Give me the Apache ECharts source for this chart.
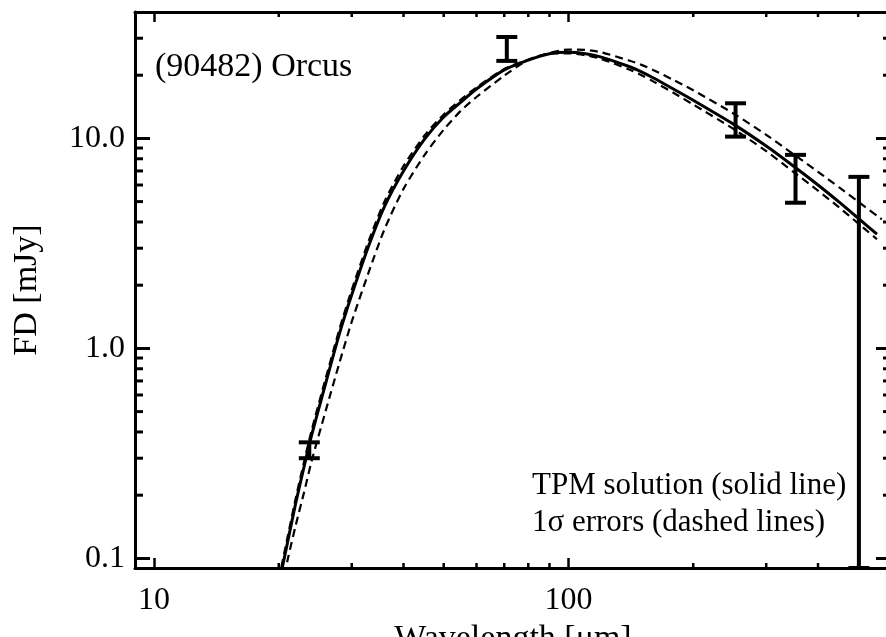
<!DOCTYPE html>
<html>
<head>
<meta charset="utf-8">
<script src="https://cdn.jsdelivr.net/npm/echarts@6/dist/echarts.min.js"></script>
<style>
  html, body { margin: 0; padding: 0; background: #fff; }
  #chart { width: 886px; height: 637px; }
</style>
</head>
<body>
<div id="chart"></div>
<script>
// wavelength grid (micron) for the model curves
const wavelengths = [20, 21, 22, 23, 24, 26, 28, 30, 33, 36, 40, 45, 50, 55, 60, 70, 80, 90, 100, 110, 120, 140, 150, 160, 180, 200, 250, 300, 350, 400, 450, 500, 555];

// TPM solution (solid line), mJy
const tpmFlux = [0.075, 0.119, 0.185, 0.271, 0.385, 0.69, 1.17, 1.80, 3.1, 4.75, 7.0, 9.95, 12.65, 14.9, 17.2, 21.2, 23.6, 25.3, 25.7, 25.3, 24.4, 22.0, 20.75, 19.45, 17.1, 15.2, 11.7, 9.2, 7.35, 6.0, 4.97, 4.17, 3.5];

// 1 sigma error curves (dashed lines)
const lowerFlux = [0.079, 0.126, 0.195, 0.286, 0.406, 0.728, 1.23, 1.90, 3.27, 5.01, 7.39, 10.35, 13.0, 15.3, 17.5, 21.4, 23.7, 25.3, 25.4, 24.9, 23.9, 21.3, 20.0, 18.7, 16.4, 14.5, 11.1, 8.7, 6.9, 5.64, 4.69, 3.94, 3.31];
const upperWave = [20, 21, 22, 23, 24, 26, 28, 30, 33, 36, 40, 45, 50, 55, 60, 70, 80, 90, 100, 110, 120, 140, 150, 160, 180, 200, 250, 300, 350, 400, 450, 500, 570];
const upperFlux = [0.063, 0.098, 0.145, 0.205, 0.29, 0.51, 0.85, 1.34, 2.32, 3.70, 5.75, 8.36, 11.0, 13.55, 15.75, 19.9, 23.7, 25.5, 26.5, 26.4, 25.7, 23.5, 22.4, 21.2, 18.9, 16.95, 13.15, 10.4, 8.38, 6.93, 5.84, 5.0, 4.12];

// observations: wavelength, lower and upper flux of the error bar
const obsWave = [23.7, 71, 253, 353, 502];
const obsLow = [0.30, 23.4, 10.2, 4.94, 0.09];
const obsHigh = [0.357, 30.4, 14.7, 8.35, 6.56];

// axis ranges and tick values
const xMin = 9, xMax = 600;
const yMin = 0.09, yMax = 40;
const xMinorTicks = [20, 30, 40, 50, 60, 70, 80, 90, 200, 300, 400, 500];
const yMinorTicks = [0.2, 0.3, 0.4, 0.5, 0.6, 0.7, 0.8, 0.9, 2, 3, 4, 5, 6, 7, 8, 9, 20, 30];

const FONT = 'Liberation Serif, Times New Roman, serif';

function isDecade(v) {
  const l = Math.log10(v);
  return Math.abs(l - Math.round(l)) < 1e-6;
}

function zip(xs, ys) {
  return xs.map((x, i) => [x, ys[i]]);
}

const chart = echarts.init(document.getElementById('chart'));

const axisLine = { show: true, lineStyle: { color: '#000', width: 3 } };

chart.setOption({
  animation: false,
  backgroundColor: '#fff',
  textStyle: { fontFamily: FONT, color: '#000' },
  grid: { left: 135, top: 12, right: -5, bottom: 69, outerBoundsMode: 'none' },
  xAxis: [
    {
      type: 'log', position: 'bottom', min: xMin, max: xMax,
      name: 'Wavelength [\u03bcm]', nameLocation: 'middle', nameGap: 50,
      nameTextStyle: { fontSize: 34, color: '#000', fontFamily: FONT },
      axisLine: axisLine,
      axisTick: { inside: true, length: 10, lineStyle: { color: '#000', width: 2.5 } },
      axisLabel: {
        fontSize: 32, color: '#000', margin: 17, fontFamily: FONT,
        showMinLabel: false, showMaxLabel: false,
        formatter: v => isDecade(v) ? String(Math.round(v)) : ''
      },
      splitLine: { show: false }, minorTick: { show: false }
    },
    {
      type: 'log', position: 'top', min: xMin, max: xMax,
      axisLine: axisLine,
      axisTick: { inside: true, length: 10, lineStyle: { color: '#000', width: 2.5 } },
      axisLabel: { show: false },
      splitLine: { show: false }
    }
  ],
  yAxis: [
    {
      type: 'log', position: 'left', min: yMin, max: yMax,
      name: 'FD [mJy]', nameLocation: 'middle', nameGap: 91, nameRotate: 90,
      nameTextStyle: { fontSize: 34, color: '#000', fontFamily: FONT },
      axisLine: axisLine,
      axisTick: { inside: true, length: 15, lineStyle: { color: '#000', width: 3 } },
      axisLabel: {
        fontSize: 32, color: '#000', margin: 10, fontFamily: FONT,
        showMinLabel: false, showMaxLabel: false,
        formatter: v => isDecade(v) ? Number(v).toFixed(1) : ''
      },
      splitLine: { show: false }
    },
    {
      type: 'log', position: 'right', min: yMin, max: yMax,
      axisLine: axisLine,
      axisTick: { inside: true, length: 15, lineStyle: { color: '#000', width: 3 } },
      axisLabel: { show: false },
      splitLine: { show: false }
    }
  ],
  graphic: [
    { type: 'text', x: 155, y: 67, style: { text: '(90482) Orcus', font: '34px ' + FONT, fill: '#000', verticalAlign: 'middle' } },
    { type: 'text', x: 532, y: 486, style: { text: 'TPM solution (solid line)', font: '31px ' + FONT, fill: '#000', verticalAlign: 'middle' } },
    { type: 'text', x: 532, y: 523, style: { text: '1\u03c3 errors (dashed lines)', font: '31px ' + FONT, fill: '#000', verticalAlign: 'middle' } }
  ],
  series: [
    {
      name: 'upper', type: 'line', data: zip(upperWave, upperFlux),
      showSymbol: false, smooth: 0.25, clip: true,
      lineStyle: { color: '#000', width: 2.2, type: [8, 5] }
    },
    {
      name: 'lower', type: 'line', data: zip(wavelengths, lowerFlux),
      showSymbol: false, smooth: 0.25, clip: true,
      lineStyle: { color: '#000', width: 2.2, type: [8, 5] }
    },
    {
      name: 'TPM', type: 'line', data: zip(wavelengths, tpmFlux),
      showSymbol: false, smooth: 0.25, clip: true,
      lineStyle: { color: '#000', width: 3 }
    },
    {
      // measured fluxes with error bars
      type: 'custom', data: obsWave.map((w, i) => [w, obsLow[i], obsHigh[i]]),
      encode: { x: 0, y: [1, 2] },
      renderItem: (params, api) => {
        const lo = api.coord([api.value(0), api.value(1)]);
        const hi = api.coord([api.value(0), api.value(2)]);
        const hw = 10.5;
        const st = { stroke: '#000', lineWidth: 4 };
        return {
          type: 'group', children: [
            { type: 'line', shape: { x1: lo[0], y1: lo[1], x2: hi[0], y2: hi[1] }, style: st },
            { type: 'line', shape: { x1: lo[0] - hw, y1: lo[1], x2: lo[0] + hw, y2: lo[1] }, style: st },
            { type: 'line', shape: { x1: hi[0] - hw, y1: hi[1], x2: hi[0] + hw, y2: hi[1] }, style: st }
          ]
        };
      },
      z: 5
    },
    {
      // minor ticks on bottom and top axes
      type: 'custom', data: xMinorTicks.map(v => [v, 1]),
      encode: { x: 0, y: 1 },
      renderItem: (params, api) => {
        const cs = params.coordSys;
        const px = api.coord([api.value(0), 1])[0];
        const st = { stroke: '#000', lineWidth: 2.5 };
        return {
          type: 'group', children: [
            { type: 'line', shape: { x1: px, y1: cs.y + cs.height, x2: px, y2: cs.y + cs.height - 5 }, style: st },
            { type: 'line', shape: { x1: px, y1: cs.y, x2: px, y2: cs.y + 5 }, style: st }
          ]
        };
      },
      silent: true
    },
    {
      // minor ticks on left and right axes
      type: 'custom', data: yMinorTicks.map(v => [100, v]),
      encode: { x: 0, y: 1 },
      renderItem: (params, api) => {
        const cs = params.coordSys;
        const py = api.coord([100, api.value(1)])[1];
        const st = { stroke: '#000', lineWidth: 3 };
        return {
          type: 'group', children: [
            { type: 'line', shape: { x1: cs.x, y1: py, x2: cs.x + 8, y2: py }, style: st },
            { type: 'line', shape: { x1: cs.x + cs.width, y1: py, x2: cs.x + cs.width - 8, y2: py }, style: st }
          ]
        };
      },
      silent: true
    }
  ]
});
</script>
</body>
</html>
